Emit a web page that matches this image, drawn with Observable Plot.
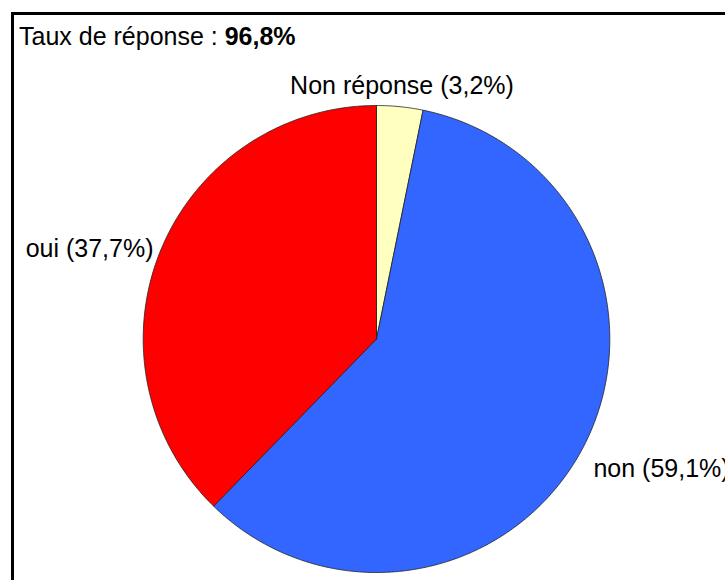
<!DOCTYPE html>
<html>
<head>
<meta charset="utf-8">
<script src="https://cdn.jsdelivr.net/npm/d3@7"></script>
<script src="https://cdn.jsdelivr.net/npm/@observablehq/plot@0.6"></script>
<style>
  html, body { margin: 0; padding: 0; background: #fff; }
  #wrap { position: relative; width: 725px; height: 580px; overflow: hidden; font-family: "Liberation Sans", Arial, sans-serif; }
  #border { position: absolute; left: 11px; top: 12px; width: 800px; height: 700px; border-left: 3px solid #000; border-top: 3px solid #000; }
  #title { position: absolute; left: 19px; top: 24px; font-size: 25px; line-height: 1; color: #000; white-space: nowrap; }
  #chart { position: absolute; left: 0; top: 0; }
</style>
</head>
<body>
<div id="wrap">
  <div id="chart"></div>
  <div id="border"></div>
  <div id="title"></div>
</div>
<script>
// ---- data ----
const categories = ["Non réponse", "non", "oui"];
const values = [3.2, 59.1, 37.7];
const colors = ["#FFFFC0", "#3366FF", "#FF0000"];
const labels = ["Non réponse (3,2%)", "non (59,1%)", "oui (37,7%)"];
const titleText = "Taux de réponse : ";
const responseRate = "96,8%";

// ---- title ----
const t = document.getElementById("title");
t.append(titleText);
const b = document.createElement("b");
b.textContent = responseRate;
t.append(b);

// ---- slice geometry (clockwise from 12 o'clock) ----
const total = d3.sum(values);
const slices = [];
let cum = 0;
categories.forEach((cat, i) => {
  const a0 = 2 * Math.PI * cum / total;
  cum += values[i];
  const a1 = 2 * Math.PI * cum / total;
  slices.push({cat, a0, a1, mid: (a0 + a1) / 2, label: labels[i]});
});
const pts = [];
for (const s of slices) {
  pts.push({cat: s.cat, x: 0, y: 0});
  const n = Math.max(2, Math.ceil((s.a1 - s.a0) / (Math.PI / 360)));
  for (let k = 0; k <= n; k++) {
    const a = s.a0 + (s.a1 - s.a0) * k / n;
    pts.push({cat: s.cat, x: Math.sin(a), y: Math.cos(a)});
  }
  pts.push({cat: s.cat, x: 0, y: 0});
}

// ---- label layout (radius factor, anchor, vertical nudge) ----
const labelLayout = {
  "Non réponse": {r: 1.088, anchor: "middle", dy: 0},
  "non": {r: 1.052, anchor: "start", dy: 15},
  "oui": {r: 1.032, anchor: "end", dy: 1}
};
const textMarks = slices.map(s => {
  const L = labelLayout[s.cat];
  return Plot.text([s], {
    x: d => Math.sin(d.mid) * L.r,
    y: d => Math.cos(d.mid) * L.r,
    text: "label",
    textAnchor: L.anchor,
    lineAnchor: "middle",
    dy: L.dy,
    fontSize: 25,
    fontFamily: "Liberation Sans, Arial, sans-serif",
    fill: "#000"
  });
});

const chart = Plot.plot({
  width: 725,
  height: 580,
  marginLeft: 142.7,
  marginRight: 115.7,
  marginTop: 105,
  marginBottom: 8,
  x: {domain: [-1, 1], axis: null},
  y: {domain: [-1, 1], axis: null},
  color: {domain: categories, range: colors},
  style: {background: "transparent", overflow: "visible"},
  marks: [
    Plot.line(pts, {x: "x", y: "y", z: "cat", fill: "cat", stroke: "#222", strokeWidth: 0.8, strokeLinejoin: "round"}),
    ...textMarks
  ]
});
document.getElementById("chart").append(chart);
</script>
</body>
</html>
